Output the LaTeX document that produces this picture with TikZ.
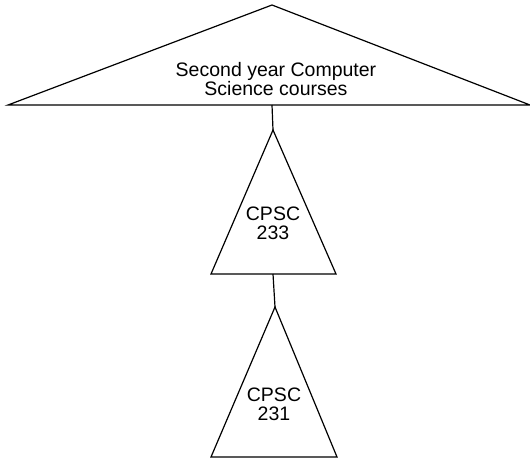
\documentclass[tikz,border=0pt]{standalone}
\usepackage{fontspec}
\setmainfont{Liberation Sans}
\usepackage{tikz}
\usetikzlibrary{calc}

\tikzset{
    tri/.style={line width=1.2pt, line join=miter},
    lbl/.style={align=center, inner sep=0pt, font=\fontsize{19.5}{19}\selectfont}
}

\begin{document}
\begin{tikzpicture}[x=1pt, y=-1pt]
    \useasboundingbox (0, 0) rectangle (530, 458);
% outer group
\coordinate (csTop) at (272, 5);
\coordinate (csL) at (8, 105);
\coordinate (csR) at (530, 105);
\coordinate (csBase) at (272, 105);
\draw[tri] (csL) -- (csTop) -- (csR) -- cycle;
\node[lbl] (csText) at (276, 79) {Second year Computer\\Science courses};
% cpsc 233
\coordinate (aTop) at (273, 130);
\coordinate (aL) at (211, 274);
\coordinate (aR) at (336, 274);
\coordinate (aBase) at (273, 274);
\draw[tri] (aL) -- (aTop) -- (aR) -- cycle;
\node[lbl] (aText) at (273, 223) {CPSC\\233};
% cpsc 231
\coordinate (bTop) at (275, 307);
\coordinate (bL) at (211, 457);
\coordinate (bR) at (337, 457);
\draw[tri] (bL) -- (bTop) -- (bR) -- cycle;
\node[lbl] (bText) at (274, 404) {CPSC\\231};
% links
\draw[line width=1.2pt] (csBase) -- (aTop);
\draw[line width=1.2pt] (aBase) -- (bTop);
    \end{tikzpicture}
\end{document}
